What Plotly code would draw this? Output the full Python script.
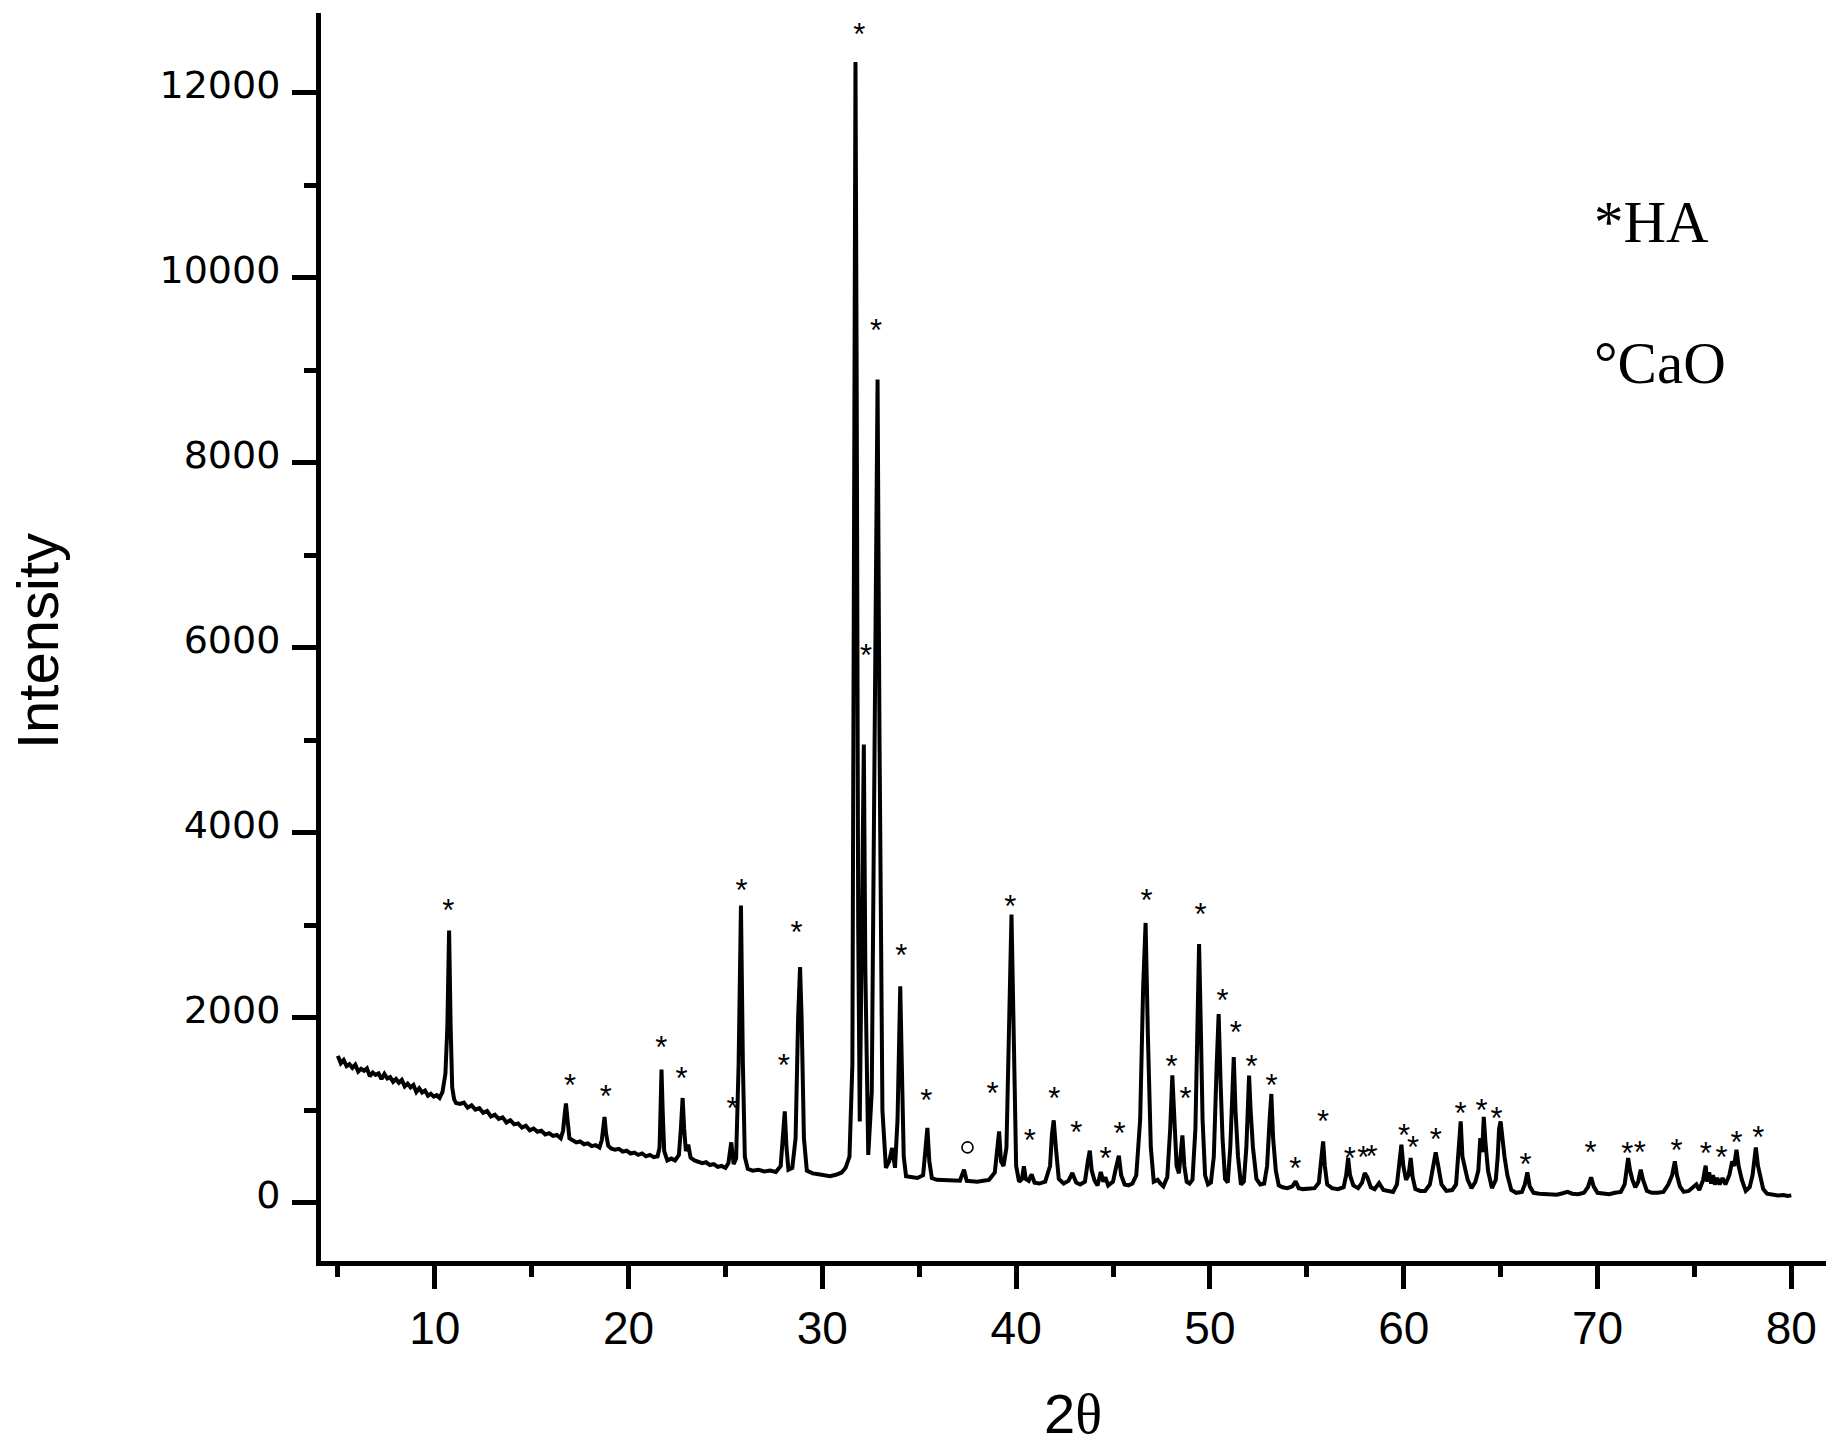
import plotly.graph_objects as go

# ---------------- data ----------------
two_theta = [
    5.00, 5.15, 5.30, 5.45, 5.60, 5.75, 5.90, 6.05, 6.20, 6.35,
    6.50, 6.65, 6.80, 6.95, 7.10, 7.25, 7.40, 7.55, 7.70, 7.85,
    8.00, 8.15, 8.30, 8.45, 8.60, 8.75, 8.90, 9.05, 9.20, 9.35,
    9.50, 9.65, 9.80, 9.95, 10.10, 10.25, 10.40, 10.55, 10.65, 10.74,
    10.82, 10.90, 11.00, 11.10, 11.30, 11.50, 11.70, 11.90, 12.10, 12.30,
    12.50, 12.70, 12.90, 13.10, 13.30, 13.50, 13.70, 13.90, 14.10, 14.30,
    14.50, 14.70, 14.90, 15.10, 15.30, 15.50, 15.70, 15.90, 16.10, 16.30,
    16.50, 16.62, 16.70, 16.77, 16.85, 16.95, 17.10, 17.30, 17.50, 17.70,
    17.90, 18.10, 18.30, 18.50, 18.62, 18.70, 18.76, 18.84, 18.95, 19.10,
    19.30, 19.50, 19.70, 19.90, 20.10, 20.30, 20.50, 20.70, 20.90, 21.10,
    21.30, 21.50, 21.60, 21.65, 21.70, 21.76, 21.84, 22.00, 22.20, 22.40,
    22.60, 22.70, 22.79, 22.87, 22.96, 23.08, 23.20, 23.40, 23.60, 23.80,
    24.00, 24.20, 24.40, 24.60, 24.80, 25.00, 25.15, 25.30, 25.42, 25.55,
    25.68, 25.80, 25.90, 26.00, 26.15, 26.40, 26.70, 27.00, 27.30, 27.60,
    27.85, 27.98, 28.06, 28.15, 28.25, 28.45, 28.62, 28.75, 28.85, 28.93,
    29.05, 29.20, 29.50, 29.80, 30.10, 30.40, 30.70, 31.00, 31.20, 31.40,
    31.55, 31.65, 31.71, 31.77, 31.85, 31.93, 32.03, 32.14, 32.22, 32.30,
    32.37, 32.55, 32.72, 32.85, 32.95, 33.10, 33.28, 33.45, 33.60, 33.75,
    33.88, 33.96, 34.02, 34.10, 34.20, 34.32, 34.60, 34.90, 35.20, 35.32,
    35.42, 35.52, 35.65, 35.90, 36.20, 36.50, 36.80, 37.10, 37.31, 37.45,
    37.70, 38.00, 38.30, 38.60, 38.90, 39.02, 39.12, 39.22, 39.35, 39.50,
    39.65, 39.76, 39.86, 40.00, 40.15, 40.30, 40.40, 40.50, 40.65, 40.80,
    40.95, 41.20, 41.50, 41.75, 41.85, 41.94, 42.05, 42.20, 42.45, 42.70,
    42.90, 43.10, 43.30, 43.55, 43.70, 43.80, 43.90, 44.05, 44.20, 44.37,
    44.50, 44.60, 44.75, 45.00, 45.15, 45.30, 45.42, 45.60, 45.80, 46.00,
    46.20, 46.40, 46.55, 46.68, 46.80, 46.95, 47.10, 47.30, 47.45, 47.60,
    47.80, 47.95, 48.06, 48.16, 48.28, 48.40, 48.50, 48.58, 48.68, 48.80,
    48.95, 49.10, 49.25, 49.35, 49.44, 49.52, 49.62, 49.75, 49.90, 50.05,
    50.20, 50.35, 50.45, 50.55, 50.65, 50.78, 50.92, 51.05, 51.15, 51.23,
    51.32, 51.45, 51.60, 51.75, 51.88, 51.95, 52.02, 52.10, 52.22, 52.40,
    52.60, 52.80, 52.95, 53.08, 53.17, 53.26, 53.40, 53.55, 53.75, 54.00,
    54.25, 54.42, 54.58, 54.80, 55.10, 55.40, 55.62, 55.75, 55.84, 55.93,
    56.05, 56.30, 56.60, 56.90, 57.03, 57.13, 57.23, 57.40, 57.65, 57.85,
    57.99, 58.12, 58.30, 58.50, 58.73, 58.95, 59.20, 59.45, 59.65, 59.80,
    59.88, 59.98, 60.12, 60.25, 60.36, 60.46, 60.60, 60.85, 61.10, 61.35,
    61.55, 61.65, 61.78, 61.95, 62.20, 62.50, 62.70, 62.85, 62.94, 63.03,
    63.15, 63.30, 63.50, 63.70, 63.85, 63.95, 64.05, 64.13, 64.22, 64.35,
    64.55, 64.75, 64.85, 64.92, 65.00, 65.08, 65.20, 65.35, 65.55, 65.80,
    66.10, 66.25, 66.38, 66.50, 66.70, 67.00, 67.30, 67.60, 67.90, 68.20,
    68.45, 68.70, 69.00, 69.30, 69.50, 69.67, 69.80, 70.00, 70.30, 70.60,
    70.90, 71.20, 71.40, 71.52, 71.58, 71.68, 71.80, 71.95, 72.10, 72.23,
    72.35, 72.55, 72.80, 73.10, 73.40, 73.65, 73.85, 73.99, 74.10, 74.25,
    74.45, 74.70, 74.90, 75.10, 75.25, 75.45, 75.58, 75.66, 75.76, 75.86,
    75.96, 76.06, 76.18, 76.30, 76.45, 76.60, 76.80, 76.95, 77.05, 77.17,
    77.28, 77.45, 77.65, 77.85, 78.00, 78.10, 78.17, 78.28, 78.40, 78.55,
    78.75, 79.00, 79.30, 79.60, 79.80, 80.00,
]
intensity = [
    1590, 1510, 1545, 1480, 1500, 1460, 1495, 1420, 1450, 1430,
    1455, 1370, 1410, 1385, 1400, 1340, 1395, 1345, 1360, 1310,
    1340, 1300, 1330, 1260, 1290, 1250, 1275, 1200, 1240, 1195,
    1215, 1160, 1180, 1150, 1165, 1135, 1200, 1400, 1900, 2944,
    1900, 1250, 1120, 1080, 1070, 1085, 1030, 1055, 1010, 1025,
    975, 995, 935, 955, 910, 925, 870, 895, 850, 860,
    815, 835, 785, 805, 770, 780, 740, 755, 725, 735,
    700, 780, 950, 1075, 900, 700, 680, 655, 665, 635,
    645, 615, 625, 600, 680, 880, 930, 750, 620, 590,
    575, 585, 555, 565, 535, 545, 520, 535, 505, 520,
    495, 505, 600, 1000, 1441, 1000, 560, 460, 480, 460,
    520, 800, 1135, 800, 560, 630, 490, 460, 445, 430,
    440, 410, 420, 390, 400, 380, 430, 655, 420, 480,
    1500, 3214, 1500, 500, 370, 350, 360, 340, 350, 335,
    400, 700, 990, 600, 360, 380, 700, 2000, 2551, 2000,
    700, 350, 320, 310, 295, 290, 305, 330, 380, 500,
    1500, 8000, 12331, 9000, 3000, 880, 2500, 4956, 2500, 900,
    520, 1200, 5000, 8900, 5000, 1000, 380, 450, 595, 380,
    900, 2000, 2342, 1500, 500, 288, 280, 270, 300, 550,
    811, 450, 270, 250, 245, 240, 235, 240, 360, 240,
    235, 230, 240, 250, 330, 600, 774, 450, 400, 600,
    2000, 3117, 2000, 400, 230, 260, 396, 260, 240, 310,
    220, 210, 230, 400, 750, 893, 600, 260, 210, 240,
    324, 220, 200, 230, 450, 565, 350, 240, 190, 335,
    230, 280, 190, 230, 380, 511, 300, 200, 190, 210,
    300, 900, 2300, 3027, 1800, 600, 230, 250, 210, 180,
    280, 800, 1380, 900, 400, 320, 600, 731, 400, 230,
    210, 250, 800, 2000, 2800, 2000, 900, 300, 200, 220,
    500, 1500, 2043, 1300, 700, 260, 220, 600, 1300, 1578,
    1000, 500, 200, 230, 600, 1100, 1376, 1000, 600, 260,
    200, 210, 400, 900, 1178, 700, 350, 190, 170, 160,
    180, 234, 160, 150, 150, 160, 220, 450, 666, 400,
    200, 160, 150, 170, 300, 486, 300, 190, 160, 220,
    324, 280, 170, 150, 216, 140, 130, 120, 200, 450,
    630, 400, 250, 300, 486, 280, 150, 130, 130, 200,
    450, 547, 400, 200, 130, 140, 200, 600, 882, 500,
    380, 250, 160, 230, 350, 700, 550, 930, 650, 350,
    160, 250, 500, 800, 882, 700, 500, 300, 140, 110,
    120, 200, 331, 180, 110, 100, 95, 100, 90, 105,
    120, 100, 95, 110, 170, 277, 180, 110, 100, 95,
    110, 120, 200, 400, 486, 350, 250, 170, 230, 360,
    250, 130, 110, 110, 120, 200, 300, 450, 300, 180,
    120, 130, 170, 200, 140, 250, 403, 230, 330, 210,
    300, 200, 270, 200, 270, 200, 300, 450, 400, 576,
    400, 250, 130, 170, 300, 450, 601, 400, 300, 150,
    100, 90, 80, 85, 75, 82,
]

# HA reflections marked with "*"
ha_theta = [
    10.70, 16.98, 18.83, 21.69, 22.73, 25.37, 25.83, 28.01, 28.67, 31.91,
    32.26, 32.77, 34.08, 35.37, 38.78, 39.70, 40.71, 41.97, 43.10, 44.61,
    45.33, 46.73, 48.02, 48.74, 49.51, 50.65, 51.34, 52.15, 53.18, 54.41,
    55.84, 57.22, 57.91, 58.34, 60.02, 60.48, 61.66, 62.93, 64.01, 64.79,
    66.28, 69.64, 71.53, 72.18, 74.08, 75.59, 76.40, 77.17, 78.29,
]
ha_label_y = [
    3207, 1313, 1202, 1725, 1391, 1066, 3428, 1535, 2967, 12678,
    5962, 9475, 2723, 1155, 1234, 3250, 720, 1175, 812, 528,
    795, 3313, 1524, 1171, 3164, 2234, 1892, 1524, 1315, 422,
    925, 522, 533, 547, 774, 649, 728, 1016, 1044, 962,
    461, 595, 584, 595, 612, 576, 541, 703, 757,
]
# CaO reflection marked with "o"
cao_theta = [37.49]
cao_label_y = [601]

x_title = "2θ"
y_title = "Intensity"
legend_lines = ["*HA", "°CaO"]

# ---------------- figure ----------------
PAGE_OFF = 8                     # default body margin of the page
W, H = 1840, 1447
ML, MR, MT, MB = 313, 22, 5, 194
X_RANGE = [4.13, 81.79]
Y_RANGE = [-627, 12862]
plot_w = W - ML - MR
plot_h = H - MT - MB
px_per_unit_y = plot_h / (Y_RANGE[1] - Y_RANGE[0])
STAR_SHIFT_PX = 7  # asterisk glyph sits high in its text box

fig = go.Figure()
fig.add_trace(go.Scatter(
    x=two_theta, y=intensity, mode="lines",
    line=dict(color="black", width=4), hoverinfo="skip",
))
fig.add_trace(go.Scatter(
    x=ha_theta, y=[v - STAR_SHIFT_PX / px_per_unit_y for v in ha_label_y],
    mode="text", text=["*"] * len(ha_theta), textposition="middle center",
    textfont=dict(family="Liberation Sans, Arial, sans-serif", size=31, color="black"),
    hoverinfo="skip",
))
fig.add_trace(go.Scatter(
    x=cao_theta, y=cao_label_y, mode="markers",
    marker=dict(symbol="circle-open", size=11, color="black", line=dict(width=1.6, color="black")),
    hoverinfo="skip",
))

def sx(px):  # screen x pixel -> paper
    return (px - PAGE_OFF - ML) / plot_w

def sy(py):  # screen y pixel -> paper
    return (H - MB - (py - PAGE_OFF)) / plot_h

annotations = [
    dict(text=y_title, xref="paper", yref="paper", x=sx(37), y=sy(641),
         textangle=-90, showarrow=False, xanchor="center", yanchor="middle",
         font=dict(family="Liberation Sans, Arial, sans-serif", size=58, color="black")),
    dict(text="2<span style='font-family:Liberation Serif, Times New Roman, serif'>θ</span>",
         xref="paper", yref="paper", x=sx(1073), y=sy(1413),
         showarrow=False, xanchor="center", yanchor="middle",
         font=dict(family="Liberation Sans, Arial, sans-serif", size=56, color="black")),
    dict(text=legend_lines[0], xref="paper", yref="paper", x=sx(1593), y=sy(222),
         showarrow=False, xanchor="left", yanchor="middle", borderpad=0,
         font=dict(family="Liberation Serif, Times New Roman, serif", size=59, color="black")),
    dict(text=legend_lines[1], xref="paper", yref="paper", x=sx(1593), y=sy(363),
         showarrow=False, xanchor="left", yanchor="middle", borderpad=0,
         font=dict(family="Liberation Serif, Times New Roman, serif", size=59, color="black")),
]

fig.update_layout(
    width=W, height=H,
    margin=dict(l=ML, r=MR, t=MT, b=MB, pad=0),
    plot_bgcolor="white", paper_bgcolor="white",
    showlegend=False,
    annotations=annotations,
    xaxis=dict(
        range=X_RANGE, showgrid=False, zeroline=False, automargin=False,
        showline=True, linewidth=5, linecolor="black",
        tickmode="linear", tick0=0, dtick=10,
        ticks="outside", ticklen=23, tickwidth=5, tickcolor="black",
        tickfont=dict(family="Liberation Sans, Arial, sans-serif", size=46, color="black"),
        minor=dict(ticks="outside", ticklen=11, tickwidth=5, tickcolor="black", tick0=0, dtick=5),
    ),
    yaxis=dict(
        range=Y_RANGE, showgrid=False, zeroline=False, automargin=False,
        showline=True, linewidth=5, linecolor="black",
        tickmode="linear", tick0=0, dtick=2000, tickformat="d",
        ticks="outside", ticklen=24, tickwidth=5, tickcolor="black",
        ticklabelshift=-8, ticklabelstandoff=4,
        tickfont=dict(family="DejaVu Sans, sans-serif", size=38, color="black"),
        minor=dict(ticks="outside", ticklen=12, tickwidth=5, tickcolor="black", tick0=0, dtick=1000),
    ),
)

fig.write_html("out.html")
